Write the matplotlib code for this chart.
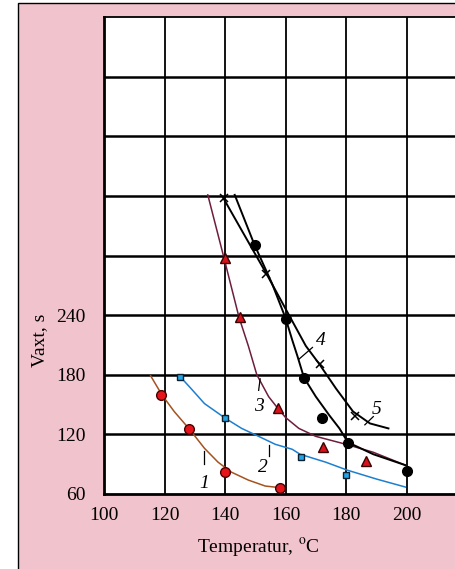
import matplotlib
matplotlib.use("Agg")
from matplotlib import pyplot as plt
from matplotlib.patches import Rectangle

plt.rcParams['font.family'] = ['Liberation Serif', 'DejaVu Serif']
plt.rcParams['mathtext.fontset'] = 'stix'

# measured points (temperature, time)
t1 = [119, 128, 140, 158]
v1 = [160, 125, 82, 66]
t2 = [125, 140, 165, 180]
v2 = [178, 136, 97, 79]
t3 = [140, 145, 157.5, 172.5, 186.5]
v3 = [297, 238, 147, 107, 93]
t4 = [150, 160, 166, 172, 180.5, 200]
v4 = [311, 236, 177, 136, 111, 83]
t5 = [139.5, 153.5, 171.5, 183]
v5 = [358, 281, 191, 138]

# fitted curves
c1_t = [115.4, 119.1, 123.2, 128.3, 133.2, 137.7, 142.1, 147.7, 153.3, 159.4]
c1_v = [179, 160, 143, 125, 106, 92, 82, 74, 68, 66]
c2_t = [125.2, 128.8, 133.2, 140.2, 145.5, 151.1, 156.6, 162.2, 164.8, 173.3, 180.4, 190.1, 199.6]
c2_v = [178, 166, 151, 136, 126, 118, 110, 105, 100, 92, 84, 75, 67]
c3_t = [134.3, 139.7, 144.6, 147.7, 150.5, 154.4, 157.5, 160, 164.4, 170, 180, 189, 199.6]
c3_v = [361, 297, 238, 209, 180, 158, 146, 137, 126, 118, 110, 102, 89]
c4_t = [143.2, 149.7, 155.5, 160, 162.2, 163.9, 166.1, 170, 174.5, 177.8, 180.6, 189, 199.6]
c4_v = [361, 311, 272, 237, 215, 199, 177, 158, 139, 126, 112, 100, 89]
c5_t = [139.4, 146.5, 153.8, 166.7, 171.1, 176.7, 182.3, 187.9, 194]
c5_v = [358, 320, 281, 209, 191, 166, 143, 131, 126]

x_ticks = [100, 120, 140, 160, 180, 200]
y_ticks = [60, 120, 180, 240]
y_grid = [120, 180, 240, 300, 360, 420, 480]
x_grid = [120, 140, 160, 180, 200]

# curve numbers: text, text position, leader line
labels = [
    ("1", (133.2, 70.6), ((133.1, 133.1), (103.5, 90.6))),
    ("2", (152.4, 86.2), ((154.4, 154.4), (109.7, 98.0))),
    ("3", (151.1, 147.8), ((151.6, 151.1), (175.9, 164.3))),
    ("4", (171.6, 214.2), ((164.4, 168.9), (195.6, 207.5))),
    ("5", (190.1, 144.8), ((186.2, 189.0), (129.6, 137.9))),
]

pink = '#f1c3cd'

fig = plt.figure(figsize=(4.55, 5.69), dpi=100)
fig.patch.set_facecolor('white')
bg = Rectangle((18 / 455, -0.01), 1.0, 1 - 3 / 569 + 0.01,
               transform=fig.transFigure, facecolor=pink,
               edgecolor='black', linewidth=1.0, zorder=-5)
fig.patches.append(bg)

ax = fig.add_axes([104 / 455, 1 - 494 / 569, 1 - 104 / 455 + 0.01, (494 - 17) / 569])
ax.set_facecolor('white')
ax.set_xlim(100, 217.5)
ax.set_ylim(60, 540)

for g in y_grid:
    ax.axhline(g, color='black', lw=1.8, zorder=1)
for g in x_grid:
    ax.axvline(g, color='black', lw=1.3, zorder=1)

ax.plot(c1_t, c1_v, color='#a4521f', lw=1.1, zorder=2)
ax.plot(c2_t, c2_v, color='#1c7fcf', lw=1.1, zorder=2)
ax.plot(c3_t, c3_v, color='#6e1d3e', lw=1.1, zorder=2)
ax.plot(c4_t, c4_v, color='black', lw=1.4, zorder=2)
ax.plot(c5_t, c5_v, color='black', lw=1.4, zorder=2)

ax.plot(t1, v1, 'o', ms=7, mfc='#e5141b', mec='#4a0000', mew=1.0, zorder=3)
ax.plot(t2, v2, 's', ms=5, mfc='#22a4e6', mec='#0a2030', mew=1.0, zorder=3)
ax.plot(t3, v3, '^', ms=7, mfc='#d8121c', mec='#3a0000', mew=1.0, zorder=3)
ax.plot(t4, v4, 'o', ms=7, color='black', zorder=3)
ax.plot(t5, v5, 'x', ms=6, color='black', mew=1.1, zorder=3)

for txt, (tx, ty), (lx, ly) in labels:
    ax.text(tx, ty, txt, fontsize=14, style='italic', ha='center', va='center', zorder=4)
    ax.plot(lx, ly, color='black', lw=0.9, zorder=4)

ax.set_xticks(x_ticks)
ax.set_yticks(y_ticks)
ax.tick_params(length=0, labelsize=14, pad=9)
ax.tick_params(axis='y', pad=13)

for side in ['left', 'bottom']:
    ax.spines[side].set_linewidth(2.0)
ax.spines['top'].set_linewidth(1.3)
ax.spines['right'].set_visible(False)

fig.text(258 / 455, 1 - 548 / 569, r'Temperatur, $^{\mathrm{o}}$C', fontsize=14,
         ha='center', va='center')
fig.text(40 / 455, 1 - 340 / 569, 'Vaxt, s', fontsize=14, rotation=90,
         ha='center', va='center')

plt.savefig('out.png', dpi=100, facecolor=fig.get_facecolor())
